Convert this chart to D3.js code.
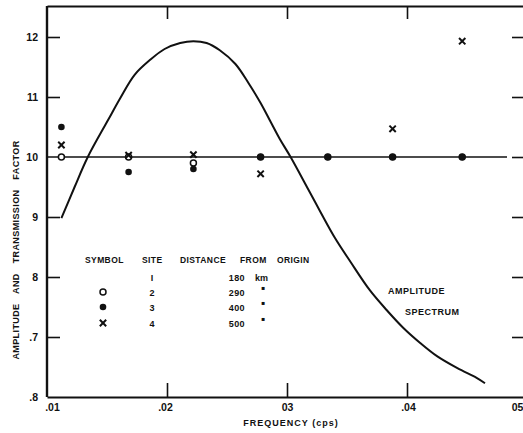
<!DOCTYPE html>
<html>
<head>
<meta charset="utf-8">
<script src="https://cdn.jsdelivr.net/npm/d3@7"></script>
<style>
  html, body { margin: 0; padding: 0; background: #fff; }
  svg { display: block; }
  text { font-family: "Liberation Sans", Arial, sans-serif; font-weight: bold; fill: #111; }
</style>
</head>
<body>
<svg id="chart" width="523" height="433"></svg>
<script>
// Frequencies (cps) at which transmission factors were measured
const freqs = [0.0112, 0.0168, 0.0222, 0.0278, 0.0334, 0.0388, 0.0446];
// Transmission factor per site (site 1 is the reference, = 1.0)
const site2 = [1.0, 1.0, 0.99, 1.0, 1.0, 1.0, 1.0];
const site3 = [1.05, 0.975, 0.98, 1.0, 1.0, 1.0, 1.0];
const site4 = [1.02, 1.003, 1.004, 0.972, null, 1.047, 1.193];

// Amplitude spectrum curve
const specFreq = [0.0112, 0.0123, 0.0134, 0.0151, 0.0161, 0.0173, 0.0186, 0.0198, 0.0211, 0.0222,
                  0.0233, 0.0244, 0.0257, 0.0268, 0.0278, 0.0286, 0.0294, 0.0303, 0.0318, 0.0328,
                  0.0340, 0.0353, 0.0369, 0.0383, 0.0397, 0.0411, 0.0425, 0.0442, 0.0458, 0.0465];
const specAmp = [0.898, 0.950, 1.000, 1.062, 1.098, 1.137, 1.162, 1.180, 1.190, 1.193,
                 1.190, 1.178, 1.155, 1.123, 1.090, 1.060, 1.030, 1.000, 0.945, 0.908,
                 0.865, 0.825, 0.778, 0.745, 0.715, 0.690, 0.668, 0.648, 0.632, 0.623];

// Axis ticks and their printed labels
const xTicks = [0.01, 0.02, 0.03, 0.04, 0.05];
const xTickLabels = [".01", ".02", "03", ".04", "05"];
const yTicks = [0.6, 0.7, 0.8, 0.9, 1.0, 1.1, 1.2];
const yTickLabels = [".8", ".7", "8", "9", "10", "11", "12"];

// Legend table
const legendHeader = ["SYMBOL", "SITE", "DISTANCE", "FROM", "ORIGIN"];
const legendSites = ["I", "2", "3", "4"];
const legendSymbols = [null, "open", "filled", "cross"];
const legendDistances = ["180", "290", "400", "500"];

const svg = d3.select("#chart");
const plotLeft = 47, plotRight = 527, plotTop = 6, plotBottom = 397;

const x = d3.scaleLinear().domain([0.01, 0.05]).range([plotLeft, plotRight]);
const y = d3.scaleLinear().domain([0.6, 1.2]).range([plotBottom, 37]);

function styleAxis(g, w) {
  g.select(".domain").attr("stroke", "#111").attr("stroke-width", w);
  g.selectAll(".tick line").attr("stroke", "#111").attr("stroke-width", 1.6);
  g.selectAll("text").attr("font-size", 10.5).attr("font-family", "Liberation Sans, Arial, sans-serif")
    .attr("font-weight", "bold").attr("fill", "#111");
}

// Top frame with inward ticks
const topAxis = svg.append("g").attr("transform", `translate(0,${plotTop})`)
  .call(d3.axisTop(x).tickValues([0.02, 0.03, 0.04]).tickSizeInner(-13).tickSizeOuter(0).tickFormat(""));
styleAxis(topAxis, 1.8);

// Right frame ticks
const rightAxis = svg.append("g").attr("transform", `translate(${plotRight},0)`)
  .call(d3.axisRight(y).tickValues(yTicks.filter(v => v !== 0.6)).tickSizeInner(-15).tickSizeOuter(0).tickFormat(""));
styleAxis(rightAxis, 1.8);

// Bottom axis
const bottomAxis = svg.append("g").attr("transform", `translate(0,${plotBottom})`)
  .call(d3.axisBottom(x).tickValues(xTicks).tickSizeInner(-14).tickSizeOuter(0).tickPadding(7)
    .tickFormat((d, i) => xTickLabels[i]));
styleAxis(bottomAxis, 1.8);
bottomAxis.selectAll(".tick line").filter(d => d === 0.01 || d === 0.05).remove();
const xLabelShift = [5, -2, 0, 1, -10];
bottomAxis.selectAll(".tick text").attr("dx", (d, i) => xLabelShift[i]);

// Left axis
const leftAxis = svg.append("g").attr("transform", `translate(${plotLeft},0)`)
  .call(d3.axisLeft(y).tickValues(yTicks).tickSizeInner(-13).tickSizeOuter(0).tickPadding(9)
    .tickFormat((d, i) => yTickLabels[i]));
styleAxis(leftAxis, 2.4);
leftAxis.select(".domain").attr("d", `M0,${plotTop}V${plotBottom}`);
leftAxis.selectAll(".tick line").filter(d => d === 0.6 || d === 1.0).remove();

// Reference level 1.0
svg.append("line")
  .attr("x1", plotLeft).attr("x2", 507)
  .attr("y1", y(1.0)).attr("y2", y(1.0))
  .attr("stroke", "#111").attr("stroke-width", 1.6);

// Amplitude spectrum
const line = d3.line().x(d => x(d[0])).y(d => y(d[1])).curve(d3.curveCatmullRom);
svg.append("path")
  .datum(specFreq.map((f, i) => [f, specAmp[i]]))
  .attr("d", line)
  .attr("fill", "none").attr("stroke", "#111").attr("stroke-width", 2);

// Markers
const cross = d3.symbol().type(d3.symbolTimes).size(28);
function drawMarker(g, kind, cx, cy) {
  if (kind === "open") {
    g.append("circle").attr("cx", cx).attr("cy", cy).attr("r", 3)
      .attr("fill", "#fff").attr("stroke", "#111").attr("stroke-width", 1.5);
  } else if (kind === "filled") {
    g.append("circle").attr("cx", cx).attr("cy", cy).attr("r", 3.3).attr("fill", "#111");
  } else if (kind === "cross") {
    g.append("path").attr("d", cross).attr("transform", `translate(${cx},${cy})`)
      .attr("fill", "none").attr("stroke", "#111").attr("stroke-width", 2);
  }
}
const marks = svg.append("g");
freqs.forEach((f, i) => drawMarker(marks, "open", x(f), y(site2[i])));
freqs.forEach((f, i) => drawMarker(marks, "filled", x(f), y(site3[i])));
freqs.forEach((f, i) => { if (site4[i] != null) drawMarker(marks, "cross", x(f), y(site4[i])); });

// Legend table
const legend = svg.append("g");
const headerX = [85, 142, 180, 240, 277];
legendHeader.forEach((h, i) => {
  legend.append("text").attr("x", headerX[i]).attr("y", 263).attr("font-size", 8.5)
    .attr("letter-spacing", 0.4).text(h);
});
const rowY = [277, 292, 307, 323];
legendSites.forEach((s, i) => {
  const cy = rowY[i];
  if (legendSymbols[i]) drawMarker(legend, legendSymbols[i], 103, cy);
  legend.append("text").attr("x", 152).attr("y", cy + 3.5).attr("text-anchor", "middle")
    .attr("font-size", 9).text(s);
  legend.append("text").attr("x", 245).attr("y", cy + 3.5).attr("text-anchor", "end")
    .attr("font-size", 9).attr("letter-spacing", 0.4).text(legendDistances[i]);
  if (i === 0) {
    legend.append("text").attr("x", 255).attr("y", cy + 3.5).attr("font-size", 9).text("km");
  } else {
    legend.append("text").attr("x", 263).attr("y", cy).attr("text-anchor", "middle")
      .attr("font-family", "DejaVu Sans").attr("font-size", 12).text("\u25AA");
  }
});

// Curve annotation
svg.append("text").attr("x", 388).attr("y", 294).attr("font-size", 9).attr("letter-spacing", 0.5).text("AMPLITUDE");
svg.append("text").attr("x", 405).attr("y", 315).attr("font-size", 9).attr("letter-spacing", 0.5).text("SPECTRUM");

// Axis titles
svg.append("text").attr("x", 291).attr("y", 426).attr("text-anchor", "middle")
  .attr("font-size", 9).attr("letter-spacing", 1).text("FREQUENCY (cps)");
svg.append("text").attr("transform", "translate(19,250) rotate(-90)").attr("text-anchor", "middle")
  .attr("font-size", 9).attr("letter-spacing", 0.4).attr("word-spacing", 7)
  .text("AMPLITUDE AND TRANSMISSION FACTOR");
</script>
</body>
</html>
